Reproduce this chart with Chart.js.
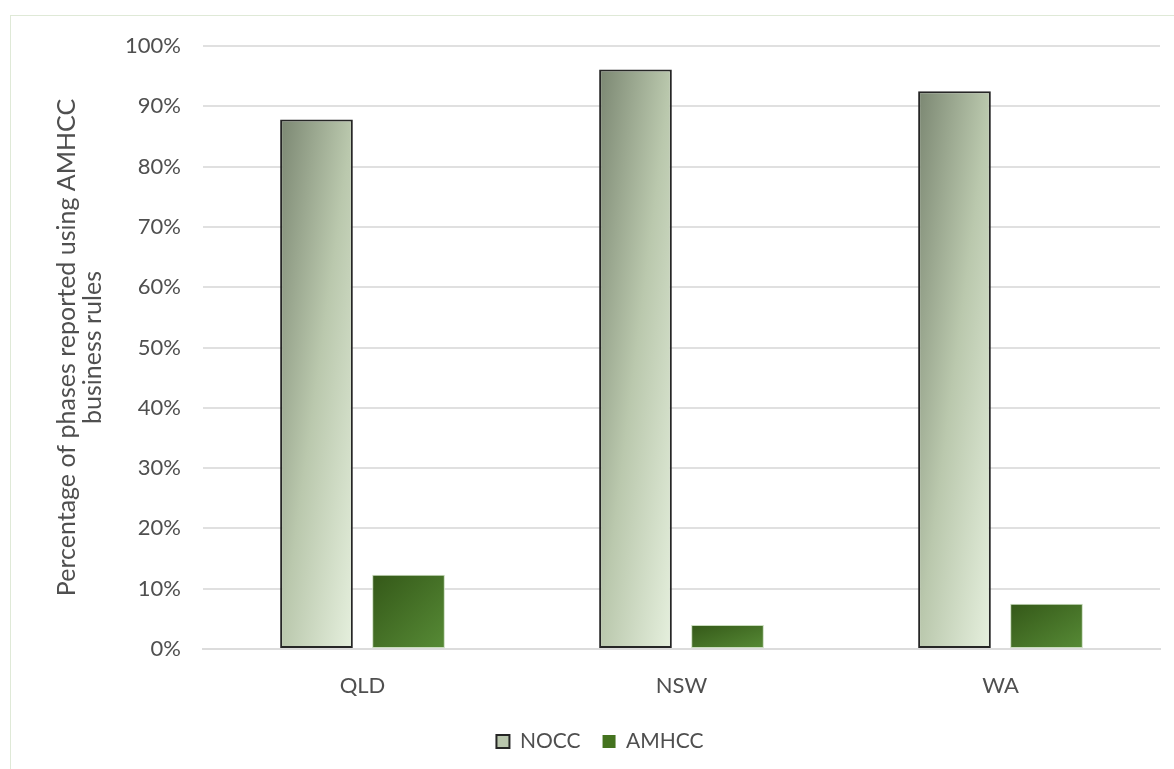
<!DOCTYPE html>
<html>
<head>
<meta charset="utf-8">
<script src="https://cdn.jsdelivr.net/npm/chart.js@4/dist/chart.umd.min.js"></script>
<style>
  html, body { margin: 0; padding: 0; background: #ffffff; overflow: hidden; }
  #frame { position: absolute; left: 10px; top: 15px; width: 1200px; height: 800px; border: 1px solid #dfe9d7; box-sizing: border-box; }
  #wrap { position: absolute; left: 0; top: 0; width: 1174px; height: 769px; }
</style>
</head>
<body>
<div id="frame"></div>
<div id="wrap"><canvas id="chart" width="1174" height="769"></canvas></div>
<script>
// Share of phases reported using the AMHCC business rules, by state
const states = ['QLD', 'NSW', 'WA'];
const noccValues = [87.8, 96.1, 92.5];
const amhccValues = [12.3, 4.0, 7.5];
const seriesNames = ['NOCC', 'AMHCC'];
const axisTitleLines = ['Percentage of phases reported using AMHCC', 'business rules'];

const CAT_PCT = 0.577;
const BAR_PCT = 0.79;
const FONT = 'Lato, "Open Sans", sans-serif';
const TEXT = '#4f4f4f';

// Diagonal fill running from the bar's top-left corner to its bottom-right corner
// in the bar's own box proportions.
function barGradient(ctx, stops) {
  const chart = ctx.chart;
  const area = chart.chartArea;
  const xs = chart.scales.x, ys = chart.scales.y;
  if (!area || !xs || !ys || ctx.type !== 'data') return stops[Math.floor(stops.length / 2)][1];
  const catW = (area.right - area.left) / states.length;
  const slot = catW * CAT_PCT / 2;
  const xc = xs.getPixelForValue(ctx.dataIndex) + (ctx.datasetIndex === 0 ? -slot / 2 : slot / 2);
  const w = slot * BAR_PCT;
  const x0 = xc - w / 2;
  const y0 = ys.getPixelForValue(ctx.raw);
  const h = Math.max(1, ys.getPixelForValue(0) - y0);
  const k = 2 * w * h / (h * h + w * w);
  const g = chart.ctx.createLinearGradient(x0, y0, x0 + k * h, y0 + k * w);
  stops.forEach(([p, c]) => g.addColorStop(p, c));
  return g;
}

const noccStops = [[0, '#7b8772'], [0.5, '#bac8ad'], [1, '#e6f0de']];
const amhccStops = [[0, '#345818'], [1, '#578b36']];

new Chart(document.getElementById('chart'), {
  type: 'bar',
  data: {
    labels: states,
    datasets: [
      {
        label: seriesNames[0],
        data: noccValues,
        backgroundColor: (c) => barGradient(c, noccStops),
        borderColor: '#262626',
        borderWidth: 2,
        borderSkipped: false,
        categoryPercentage: CAT_PCT,
        barPercentage: BAR_PCT
      },
      {
        label: seriesNames[1],
        data: amhccValues,
        backgroundColor: (c) => barGradient(c, amhccStops),
        borderColor: '#c9dcbd',
        borderWidth: 1,
        borderSkipped: false,
        categoryPercentage: CAT_PCT,
        barPercentage: BAR_PCT
      }
    ]
  },
  options: {
    responsive: false,
    animation: false,
    layout: { padding: { left: 40, right: 14, top: 46, bottom: 7 } },
    plugins: {
      tooltip: { enabled: false },
      legend: {
        position: 'bottom',
        labels: {
          font: { family: FONT, size: 21 },
          color: TEXT,
          boxWidth: 13,
          boxHeight: 13,
          padding: 22,
          generateLabels: () => [
            { text: seriesNames[0], fillStyle: '#b9c6ad', strokeStyle: '#262626', lineWidth: 2, datasetIndex: 0, fontColor: TEXT },
            { text: seriesNames[1], fillStyle: '#44731f', strokeStyle: '#44731f', lineWidth: 0, datasetIndex: 1, fontColor: TEXT }
          ]
        }
      }
    },
    scales: {
      x: {
        grid: { display: false, drawTicks: false },
        border: { display: true, color: '#dcdcdc', width: 2 },
        ticks: { font: { family: FONT, size: 22 }, color: TEXT, padding: 24 },
        afterFit: (s) => { s.height = 60; }
      },
      y: {
        min: 0,
        max: 100,
        grid: { color: '#e0e0e0', lineWidth: 2, drawTicks: false },
        border: { display: false },
        ticks: {
          stepSize: 10,
          font: { family: FONT, size: 22 },
          color: TEXT,
          padding: 22,
          callback: (v) => v + '%'
        },
        title: {
          display: true,
          text: axisTitleLines,
          font: { family: FONT, size: 25, lineHeight: 1.04 },
          color: TEXT,
          padding: { top: 14, bottom: 0 }
        },
        afterFit: (s) => { s.width = 163; }
      }
    }
  }
});
</script>
</body>
</html>
